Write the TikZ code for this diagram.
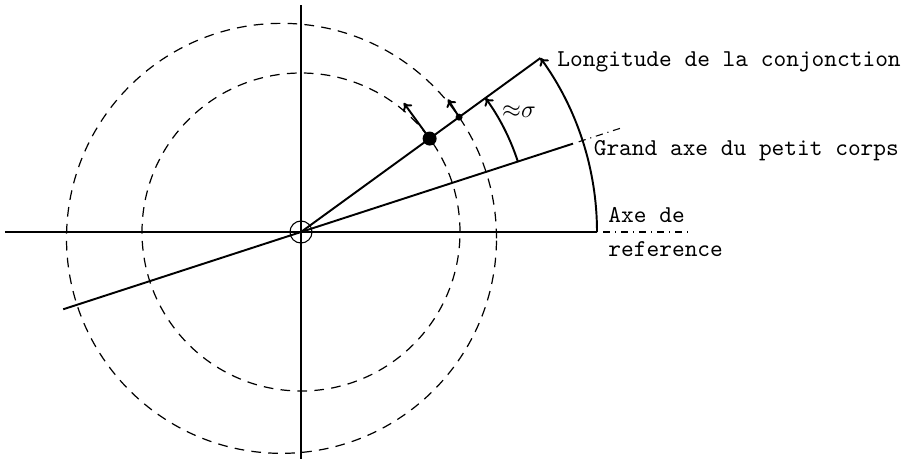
\documentclass[tikz,border=0pt]{standalone}
\usetikzlibrary{calc,arrows.meta}

\begin{document}
\begin{tikzpicture}[x=0.413pt,y=0.413pt,>={To[length=3pt,width=4.6pt]}]
  % Estilos de las lineas y textos
  \tikzset{
    axis_line/.style={line width=0.45pt},
    main_line/.style={line width=0.8pt},
    ext_line/.style={line width=0.45pt,dash dot},
    orbit_line/.style={line width=0.5pt,dash pattern=on 4pt off 3pt},
    angle_arc/.style={line width=0.8pt,->},
    dot_node/.style={circle,fill,inner sep=0pt},
    label_text/.style={font=\ttfamily,inner sep=0pt,anchor=base west}
  }
  \useasboundingbox (-301,-227) rectangle (603,232);

  % Ejes y centro
  \node[draw,circle,axis_line,inner sep=0pt,minimum size=9.1pt] (o) at (0,0) {};
  \coordinate (xw) at (-296,0);
  \coordinate (xe) at (296,0);
  \coordinate (xe1) at (302,0);
  \coordinate (xe2) at (387,0);
  \coordinate (yn) at (0,227);
  \coordinate (ys) at (0,-227);
  \draw[axis_line] (xw) -- (xe);
  \draw[ext_line] (xe1) -- (xe2);
  \draw[axis_line] (yn) -- (ys);

  % Orbitas en trazos
  \draw[orbit_line] (o.center) circle[radius=159];
  \draw[orbit_line] (198:20.5) circle[radius=215];

  % Grand axe y conjuncion
  \coordinate (ga1) at (198:250);
  \coordinate (ga2) at (18:286);
  \coordinate (ga3) at (18:292);
  \coordinate (ga4) at (18:336);
  \coordinate (conj) at (36:296);
  \draw[main_line] (ga1) -- (ga2);
  \draw[ext_line] (ga3) -- (ga4);
  \draw[main_line] (o.center) -- (conj);

  % Arcos de angulo
  \draw[angle_arc] (xe) arc[start angle=0,end angle=36,radius=296];
  \draw[angle_arc] (18:228) arc[start angle=18,end angle=36,radius=228];

  % Cuerpos y velocidades
  \node[dot_node,minimum size=5.8pt] (bigdot) at (36:159) {};
  \node[dot_node,minimum size=2.9pt] (smalldot) at (36:195.4) {};
  \coordinate (vbig) at ($(bigdot.center)+(126:44)$);
  \coordinate (vsmall) at ($(smalldot.center)+(122:21)$);
  \draw[main_line,->] (bigdot.center) -- (vbig);
  \draw[main_line,->] (smalldot.center) -- (vsmall);

  % Textos
  \node[label_text] (lconj) at (256,165.3) {Longitude de la conjonction};
  \node[label_text] (lgax) at (292.3,77) {Grand axe du petit corps};
  \node[label_text] (lref1) at (307,10) {Axe de};
  \node[label_text] (lref2) at (307,-24) {reference};
  \node (lsig) at (218,120) {${\approx}\sigma$};
\end{tikzpicture}
\end{document}
